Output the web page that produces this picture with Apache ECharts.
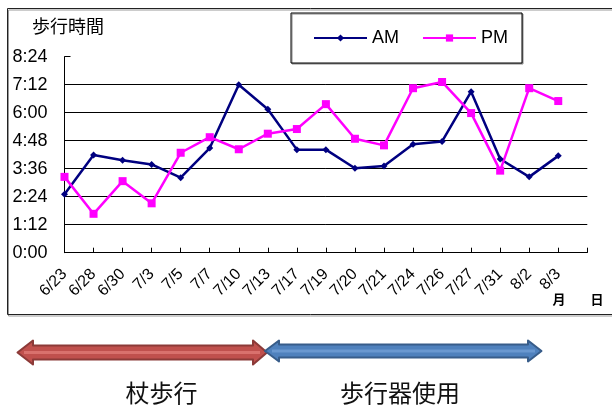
<!DOCTYPE html>
<html>
<head>
<meta charset="utf-8">
<script src="https://cdn.jsdelivr.net/npm/echarts@6/dist/echarts.min.js"></script>
<style>
html,body{margin:0;padding:0;background:#fff;}
#chart{width:612px;height:406px;}
</style>
</head>
<body>
<div id="chart"></div>
<script>
// Categories (month/day); last slot is an empty category as in the original
const categories = ['6/23','6/28','6/30','7/3','7/5','7/7','7/10','7/13','7/17','7/19','7/20','7/21','7/24','7/26','7/27','7/31','8/2','8/3',''];
// Walking time (h:mm)
const amTimes = ['2:30','4:11','3:58','3:47','3:13','4:29','7:12','6:09','4:25','4:25','3:37','3:43','4:39','4:46','6:54','4:01','3:15','4:09'];
const pmTimes = ['3:15','1:40','3:04','2:07','4:17','4:57','4:26','5:06','5:18','6:22','4:53','4:36','7:03','7:19','5:59','3:31','7:03','6:30'];
const seriesNames = ['AM','PM'];
const yTitle = '歩行時間';
const phaseLabels = ['杖歩行','歩行器使用'];
const unitLabels = ['月','日'];

function toMin(s){ const p = s.split(':'); return (+p[0])*60 + (+p[1]); }
function fmt(v){ const h = Math.floor(v/60), m = v%60; return h + ':' + (m<10?'0':'') + m; }

const amData = amTimes.map(toMin);
const pmData = pmTimes.map(toMin);

const chart = echarts.init(document.getElementById('chart'));
const cjk = '"Noto Sans CJK JP", sans-serif';
const lat = '"Liberation Sans", Arial, sans-serif';

chart.setOption({
  animation: false,
  backgroundColor: '#fff',
  grid: { left: 64.5, right: 24.7, top: 56.7, bottom: 153.3, containLabel: false },
  legend: {
    left: 291, top: 13,
    padding: [16, 14, 16, 22],
    itemWidth: 53, itemHeight: 9, itemGap: 23,
    borderColor: '#000', borderWidth: 1,
    backgroundColor: '#fff',
    shadowColor: '#888', shadowOffsetX: 1, shadowOffsetY: 1, shadowBlur: 0,
    textStyle: { fontSize: 18, fontFamily: lat, color: '#000' },
    data: seriesNames
  },
  xAxis: {
    type: 'category',
    data: categories,
    boundaryGap: false,
    axisLine: { lineStyle: { color: '#000', width: 1 } },
    axisTick: { inside: true, length: 5, interval: 0, lineStyle: { color: '#000' } },
    axisLabel: { interval: 0, rotate: 45, margin: 19, fontSize: 16, fontFamily: lat, color: '#000' },
    splitLine: { show: false }
  },
  yAxis: {
    type: 'value',
    min: 0, max: 504, interval: 72,
    axisLine: { show: true, lineStyle: { color: '#000', width: 1 } },
    axisTick: { show: true, inside: true, length: 6, lineStyle: { color: '#000' } },
    axisLabel: { formatter: fmt, margin: 17, fontSize: 18, fontFamily: lat, color: '#000' },
    splitLine: { show: true, showMinLine: false, showMaxLine: false, lineStyle: { color: '#000', width: 1 } }
  },
  series: [
    {
      name: seriesNames[0], type: 'line', data: amData,
      symbol: 'diamond', symbolSize: 7, showAllSymbol: true,
      lineStyle: { color: '#000080', width: 2.5 },
      itemStyle: { color: '#000080' }
    },
    {
      name: seriesNames[1], type: 'line', data: pmData,
      symbol: 'rect', symbolSize: 8, showAllSymbol: true,
      lineStyle: { color: '#FF00FF', width: 2.5 },
      itemStyle: { color: '#FF00FF' }
    }
  ],
  graphic: [
    { type: 'rect', z: -10, silent: true,
      shape: { x: 7.5, y: 8.5, width: 640, height: 306 },
      style: { fill: 'none', stroke: '#222', lineWidth: 1, shadowColor: '#999', shadowOffsetX: 1, shadowOffsetY: 1.5, shadowBlur: 0 } },
    { type: 'text', silent: true,
      style: { text: yTitle, x: 32, y: 26, font: '18px ' + cjk, fill: '#000', align: 'left', verticalAlign: 'middle' } },
    { type: 'text', silent: true,
      style: { text: unitLabels[0], x: 559, y: 299, font: 'bold 13px ' + cjk, fill: '#000', align: 'center', verticalAlign: 'middle' } },
    { type: 'text', silent: true,
      style: { text: unitLabels[1], x: 597, y: 299, font: 'bold 13px ' + cjk, fill: '#000', align: 'center', verticalAlign: 'middle' } },
    // red double arrow
    { type: 'polygon', silent: true,
      shape: { points: [[17.5,352.5],[33,340.5],[33,345.5],[253,345.5],[253,340.5],[267,352.5],[253,364.5],[253,359.5],[33,359.5],[33,364.5]] },
      style: { fill: '#C0504D', stroke: '#8C3A38', lineWidth: 2, lineJoin: 'round' } },
    { type: 'polyline', silent: true,
      shape: { points: [[24,352.5],[260,352.5]] },
      style: { stroke: '#D9716D', lineWidth: 3 } },
    // blue double arrow
    { type: 'polygon', silent: true,
      shape: { points: [[265,351],[279,340.5],[279,344.5],[528,344.5],[528,340.5],[541.5,351],[528,361.5],[528,357.5],[279,357.5],[279,361.5]] },
      style: { fill: '#4F81BD', stroke: '#385D8A', lineWidth: 2, lineJoin: 'round' } },
    { type: 'polyline', silent: true,
      shape: { points: [[272,351],[535,351]] },
      style: { stroke: '#6A98D0', lineWidth: 3 } },
    { type: 'text', silent: true,
      style: { text: phaseLabels[0], x: 161.5, y: 393, font: '24px ' + cjk, fill: '#111', align: 'center', verticalAlign: 'middle' } },
    { type: 'text', silent: true,
      style: { text: phaseLabels[1], x: 400, y: 393, font: '24px ' + cjk, fill: '#111', align: 'center', verticalAlign: 'middle' } }
  ]
});
</script>
</body>
</html>
